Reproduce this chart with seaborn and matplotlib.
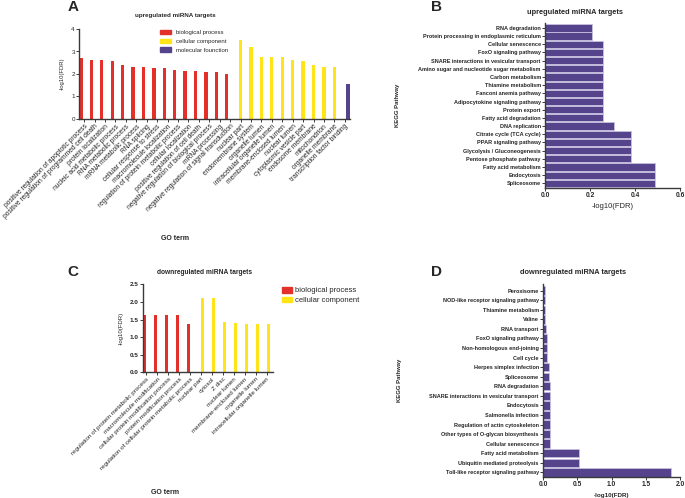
import matplotlib
matplotlib.use("Agg")
import matplotlib.pyplot as plt
from matplotlib.patches import Patch
import seaborn as sns
import pandas as pd

sns.set_theme(style="ticks")
plt.rcParams['font.family'] = ['Liberation Sans', 'DejaVu Sans']

# ---------------- data ----------------
a_bp_terms = ["positive regulation of apoptotic process",
              "positive regulation of programmed cell death",
              "protein localization", "nucleic acid metabolic process",
              "RNA metabolic process", "mRNA metabolic process", "RNA splicing",
              "cellular response to stress", "macromolecule localization",
              "regulation of protein metabolic process", "cellular localization",
              "positive regulation of cell death",
              "negative regulation of biological process", "mRNA processing",
              "negative regulation of signal transduction"]
a_bp_vals = [2.73, 2.64, 2.62, 2.59, 2.40, 2.31, 2.31, 2.27, 2.27, 2.19, 2.12, 2.12, 2.09, 2.07, 2.00]
a_cc_terms = ["nuclear part", "endomembrane system", "organelle lumen",
              "intracellular organelle lumen", "membrane-enclosed lumen",
              "nuclear lumen", "cytoplasmic vesicle part", "endosome membrane",
              "mitochondrion", "organelle membrane"]
a_cc_vals = [3.51, 3.20, 2.76, 2.76, 2.76, 2.62, 2.56, 2.40, 2.31, 2.31]
a_mf_terms = ["transcription factor binding"]
a_mf_vals = [1.57]

b_terms = ["RNA degradation", "Protein processing in endoplasmic reticulum",
           "Cellular senescence", "FoxO signaling pathway",
           "SNARE interactions in vesicular transport",
           "Amino sugar and nucleotide sugar metabolism", "Carbon metabolism",
           "Thiamine metabolism", "Fanconi anemia pathway",
           "Adipocytokine signaling pathway", "Protein export",
           "Fatty acid degradation", "DNA replication", "Citrate cycle (TCA cycle)",
           "PPAR signaling pathway", "Glycolysis / Gluconeogenesis",
           "Pentose phosphate pathway", "Fatty acid metabolism", "Endocytosis",
           "Spliceosome"]
b_vals = [0.21, 0.21, 0.256, 0.256, 0.256, 0.256, 0.256, 0.256, 0.256, 0.256,
          0.256, 0.256, 0.305, 0.382, 0.382, 0.382, 0.382, 0.49, 0.49, 0.49]

c_bp_terms = ["regulation of protein metabolic process", "macromolecule modification",
              "cellular protein modification process", "protein modification process",
              "regulation of cellular protein metabolic process"]
c_bp_vals = [1.63, 1.63, 1.63, 1.63, 1.38]
c_cc_terms = ["nuclear part", "cytosol", "Z disc", "nuclear lumen",
              "membrane-enclosed lumen", "organelle lumen", "intracellular organelle lumen"]
c_cc_vals = [2.10, 2.10, 1.43, 1.41, 1.37, 1.37, 1.37]

d_terms = ["Peroxisome", "NOD-like receptor signaling pathway", "Thiamine metabolism",
           "Valine", "RNA transport", "FoxO signaling pathway",
           "Non-homologous end-joining", "Cell cycle", "Herpes simplex infection",
           "Spliceosome", "RNA degradation", "SNARE interactions in vesicular transport",
           "Endocytosis", "Salmonella infection", "Regulation of actin cytoskeleton",
           "Other types of O-glycan biosynthesis", "Cellular senescence",
           "Fatty acid metabolism", "Ubiquitin mediated proteolysis",
           "Toll-like receptor signaling pathway"]
d_vals = [0.034, 0.034, 0.034, 0.034, 0.045, 0.064, 0.064, 0.064, 0.093, 0.093,
          0.097, 0.097, 0.097, 0.097, 0.097, 0.097, 0.097, 0.525, 0.525, 1.873]

cat_names = ["biological process", "cellular component", "molecular founction"]
RED, YEL, PUR = "#E4302A", "#FFE41A", "#55438C"
EDGE = "#C8C0E0"
SP = "#3a3a3a"

W, H = 685, 498
fig = plt.figure(figsize=(W / 100, H / 100), dpi=100)


def add_ax(l, t, r, b):
    return fig.add_axes([l / W, 1 - b / H, (r - l) / W, (b - t) / H])


def style(ax):
    sns.despine(ax=ax)
    for s in ("left", "bottom"):
        ax.spines[s].set_color(SP)
        ax.spines[s].set_linewidth(1.0)
    ax.tick_params(length=2, width=0.7, color=SP, pad=1)


# ---------------- A ----------------
axA = add_ax(79, 29, 350, 119)
dfA = pd.DataFrame({
    "term": a_bp_terms + a_cc_terms + a_mf_terms,
    "value": a_bp_vals + a_cc_vals + a_mf_vals,
    "cat": [cat_names[0]] * len(a_bp_terms) + [cat_names[1]] * len(a_cc_terms)
           + [cat_names[2]] * len(a_mf_terms)})
sns.barplot(data=dfA, x="term", y="value", hue="cat", hue_order=cat_names,
            palette=[RED, YEL, PUR], order=list(dfA["term"]), dodge=True,
            width=0.95, legend=False, ax=axA, linewidth=0, saturation=1)
style(axA)
axA.set_xlim(-0.5, 25.5)
axA.set_ylim(0, 4)
axA.set_yticks([0, 1, 2, 3, 4])
axA.tick_params(axis="y", labelsize=4.5)
axA.set_xticks(range(len(dfA)))
axA.set_xticklabels(dfA["term"], rotation=45, ha="right", rotation_mode="anchor", fontsize=4.8)
axA.set_xlabel("")
axA.set_ylabel("-log10(FDR)", fontsize=4.2)
axA.yaxis.set_label_coords(-0.052, 0.5)
axA.legend(handles=[Patch(color=c) for c in (RED, YEL, PUR)], labels=cat_names,
           loc="upper left", bbox_to_anchor=(0.30, 0.99), frameon=False, fontsize=4.3,
           handlelength=1.8, handleheight=0.8, handletextpad=0.9, labelspacing=0.55,
           borderpad=0, borderaxespad=0)
fig.text(175 / W, 1 - 15 / H, "upregulated miRNA targets", ha="center", va="center",
         fontsize=4.5, fontweight="bold")
fig.text(73 / W, 1 - 7 / H, "A", ha="center", va="center", fontsize=11, fontweight="bold")
fig.text(175 / W, 1 - 238 / H, "GO term", ha="center", va="center", fontsize=5, fontweight="bold")

# ---------------- B ----------------
axB = add_ax(545, 23, 680, 188.3)
sns.barplot(x=b_vals, y=b_terms, orient="h", color=PUR, width=0.88,
            edgecolor=EDGE, linewidth=0.6, ax=axB, saturation=1)
style(axB)
axB.set_xlim(0, 0.6)
axB.set_ylim(19.61, -0.6)
axB.set_xticks([0, 0.2, 0.4, 0.6])
axB.set_xticklabels(["0.0", "0.2", "0.4", "0.6"], fontsize=4.8, fontweight="bold")
axB.set_yticks(range(len(b_terms)))
axB.set_yticklabels(b_terms, fontsize=4.0, fontweight="bold")
axB.set_xlabel("-log10(FDR)", fontsize=5.5)
axB.xaxis.set_label_coords(0.5, (188.3 - 203) / 165.3)
axB.set_ylabel("KEGG Pathway", fontsize=4.3, fontweight="bold")
axB.yaxis.set_label_coords(-1.074, 0.5)
fig.text(575 / W, 1 - 13 / H, "upregulated miRNA targets", ha="center", va="center",
         fontsize=5.3, fontweight="bold")
fig.text(437 / W, 1 - 7 / H, "B", ha="center", va="center", fontsize=11, fontweight="bold")

# ---------------- C ----------------
axC = add_ax(142.7, 284.3, 272.7, 372.3)
dfC = pd.DataFrame({
    "term": c_bp_terms + c_cc_terms,
    "value": c_bp_vals + c_cc_vals,
    "cat": [cat_names[0]] * len(c_bp_terms) + [cat_names[1]] * len(c_cc_terms)})
sns.barplot(data=dfC, x="term", y="value", hue="cat", hue_order=cat_names[:2],
            palette=[RED, YEL], order=list(dfC["term"]), dodge=True, width=0.6,
            legend=False, ax=axC, linewidth=0, saturation=1)
style(axC)
axC.set_xlim(-0.33, 11.55)
axC.set_ylim(0, 2.5)
axC.set_yticks([0, 0.5, 1.0, 1.5, 2.0, 2.5])
axC.set_yticklabels(["0.0", "0.5", "1.0", "1.5", "2.0", "2.5"], fontsize=4.6, fontweight="bold")
axC.set_xticks(range(len(dfC)))
axC.set_xticklabels(dfC["term"], rotation=45, ha="right", rotation_mode="anchor", fontsize=4.5)
axC.set_xlabel("")
axC.set_ylabel("-log10(FDR)", fontsize=4.3)
axC.yaxis.set_label_coords((124 - 142.7) / 130, 0.5)
fig.legend(handles=[Patch(color=c) for c in (RED, YEL)], labels=cat_names[:2],
           loc="upper left", bbox_to_anchor=(281.7 / W, 1 - 287 / H), frameon=False,
           fontsize=5.5, handlelength=1.3, handleheight=0.75, handletextpad=0.45,
           labelspacing=0.3, borderpad=0, borderaxespad=0)
fig.text(205 / W, 1 - 272 / H, "downregulated miRNA targets", ha="center", va="center",
         fontsize=4.8, fontweight="bold")
fig.text(73 / W, 1 - 272 / H, "C", ha="center", va="center", fontsize=11, fontweight="bold")
fig.text(165 / W, 1 - 492 / H, "GO term", ha="center", va="center", fontsize=5, fontweight="bold")

# ---------------- D ----------------
axD = add_ax(543, 284, 680, 477.3)
sns.barplot(x=d_vals, y=d_terms, orient="h", color=PUR, width=0.88,
            edgecolor=EDGE, linewidth=0.6, ax=axD, saturation=1)
style(axD)
axD.set_xlim(0, 2.0)
axD.set_ylim(19.52, -0.7)
axD.set_xticks([0, 0.5, 1.0, 1.5, 2.0])
axD.set_xticklabels(["0.0", "0.5", "1.0", "1.5", "2.0"], fontsize=4.8, fontweight="bold")
axD.set_yticks(range(len(d_terms)))
axD.set_yticklabels(d_terms, fontsize=4.0, fontweight="bold")
axD.set_xlabel("-log10(FDR)", fontsize=4.5, fontweight="bold")
axD.xaxis.set_label_coords(0.5, (477.3 - 492.5) / 193.3)
axD.set_ylabel("KEGG Pathway", fontsize=4.3, fontweight="bold")
axD.yaxis.set_label_coords((401.7 - 543) / 137, 0.5)
fig.text(573 / W, 1 - 272 / H, "downregulated miRNA targets", ha="center", va="center",
         fontsize=5.3, fontweight="bold")
fig.text(437 / W, 1 - 272 / H, "D", ha="center", va="center", fontsize=11, fontweight="bold")

fig.savefig("out.png", dpi=100, facecolor="white")
